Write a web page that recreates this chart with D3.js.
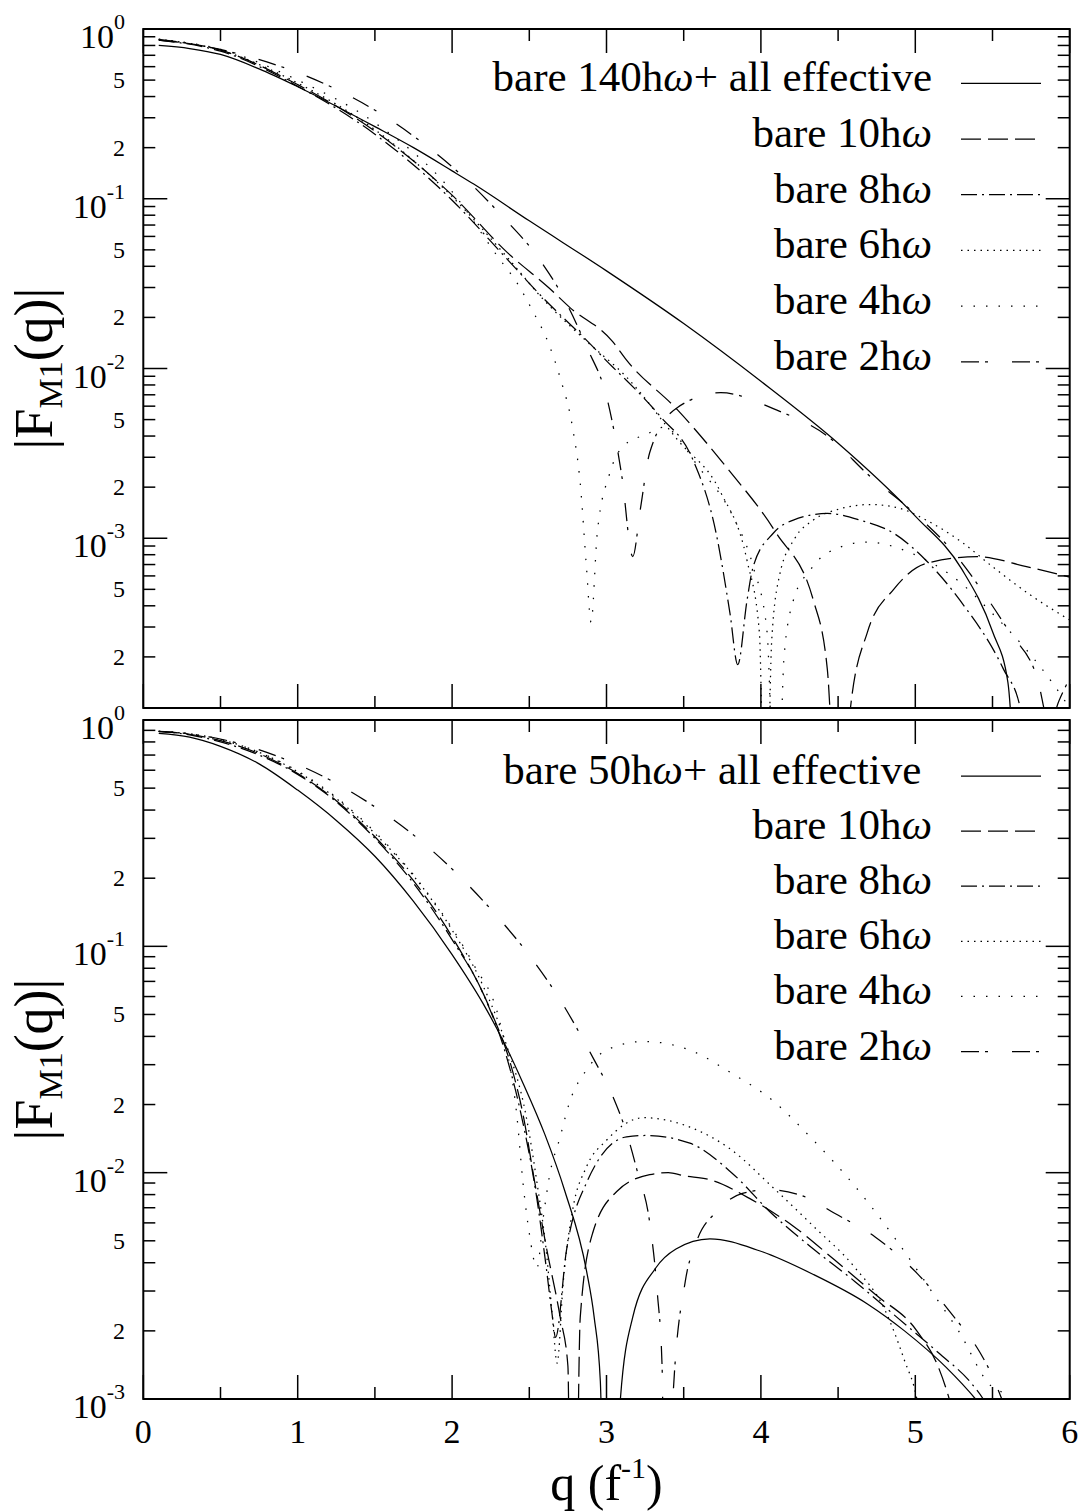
<!DOCTYPE html>
<html>
<head>
<meta charset="utf-8">
<script src="https://cdn.jsdelivr.net/npm/d3@7"></script>
<style>
  body { margin: 0; background: #fff; }
  text { font-family: "Liberation Serif", "Times New Roman", serif; fill: #000; }
  .legend-label { white-space: pre; }
</style>
</head>
<body>
<svg id="chart" width="1081" height="1511"></svg>
<script>
// |F_M1(q)| form factors, q in fm^-1.  Points at 1e-5 mark zero crossings (|F| -> 0).

// ---------- upper panel: bare 140hw + all effective vs. bare Nhw ----------
const top140 = [[0.1,0.80],[0.3,0.767],[0.5,0.708],[0.75,0.582],[1.0,0.457],[1.25,0.351],[1.5,0.266],[1.75,0.20],[2.0,0.146],[2.14,0.122],[2.5,0.0741],[3.0,0.0376],[3.5,0.0184],[4.0,0.00841],[4.5,0.00363],[5.0,0.00135],[5.3,6.6e-4],[5.5,2.82e-4],[5.6,1.41e-4],[5.67,1e-5]];
const top10 = [[0.1,0.86],[0.5,0.75],[1.0,0.47],[1.5,0.25],[2.0,0.105],[2.36,0.048],[2.63,0.0297],[2.76,0.023],[3.04,0.0144],[3.13,0.0112],[3.46,0.0057],[3.78,0.0026],[4.1,0.00107],[4.34,4.3e-4],[4.43,1.7e-4],[4.51,1e-5],[4.58,1e-4],[4.69,2.8e-4],[4.86,5e-4],[5.07,7.1e-4],[5.4,7.8e-4],[5.72,6.8e-4],[6.0,5.9e-4]];
const top8 = [[0.1,0.86],[0.5,0.74],[1.0,0.46],[1.5,0.24],[2.0,0.098],[2.35,0.0447],[2.59,0.026],[2.87,0.0147],[3.04,0.0102],[3.13,0.0085],[3.35,0.0052],[3.56,0.0029],[3.71,0.00107],[3.8,3.6e-4],[3.85,1.8e-4],[3.91,4.3e-4],[3.95,6.8e-4],[4.08,0.00107],[4.21,0.00128],[4.43,0.0014],[4.64,0.00128],[4.86,0.00107],[5.07,7.4e-4],[5.29,4.3e-4],[5.57,1.7e-4],[5.68,1e-4],[5.76,1e-5]];
const top6 = [[0.1,0.87],[0.5,0.75],[1.0,0.48],[1.5,0.255],[2.0,0.103],[2.35,0.046],[2.6,0.025],[2.87,0.0145],[3.13,0.0089],[3.46,0.0038],[3.74,0.00186],[3.91,7.4e-4],[3.99,2.8e-4],[4.03,1e-5],[4.07,2.5e-4],[4.12,6e-4],[4.22,1.0e-3],[4.34,1.28e-3],[4.5,1.48e-3],[4.71,1.58e-3],[4.9,1.5e-3],[5.07,1.28e-3],[5.3,9.5e-4],[5.5,6.8e-4],[5.75,4.6e-4],[6.0,3.3e-4]];
const top4 = [[0.1,0.87],[0.5,0.76],[1.0,0.5],[1.5,0.28],[2.0,0.11],[2.3,0.045],[2.42,0.032],[2.52,0.022],[2.62,0.0144],[2.7,0.0088],[2.78,0.0045],[2.83,0.0021],[2.87,6.8e-4],[2.9,3.2e-4],[2.94,1.07e-3],[3.02,0.0024],[3.11,0.0035],[3.26,0.0041],[3.37,0.0045],[3.6,0.0026],[3.82,0.00134],[3.95,6.8e-4],[4.04,2.8e-4],[4.1,1e-5],[4.15,2e-4],[4.21,4.3e-4],[4.32,6.5e-4],[4.43,8.2e-4],[4.69,9.5e-4],[4.97,8.2e-4],[5.29,5.5e-4],[5.5,3.6e-4],[5.72,2.2e-4],[5.89,1.4e-4],[6.0,1.0e-4]];
const top2 = [[0.1,0.87],[0.4,0.79],[0.8,0.64],[1.19,0.468],[1.53,0.32],[1.81,0.213],[2.06,0.138],[2.33,0.078],[2.56,0.0447],[2.73,0.0253],[2.87,0.0135],[3.01,0.0063],[3.1,0.0023],[3.17,7.8e-4],[3.22,0.0015],[3.28,0.0032],[3.46,0.0059],[3.74,0.0072],[4.1,0.0057],[4.43,0.0040],[4.71,0.0023],[4.97,0.00147],[5.25,8.2e-4],[5.44,4.8e-4],[5.61,2.8e-4],[5.79,1.5e-4],[5.87,8e-5],[5.93,1.1e-4],[6.0,1.5e-4]];

// ---------- lower panel: bare 50hw + all effective vs. bare Nhw ----------
const bot50 = [[0.1,0.873],[0.3,0.84],[0.5,0.765],[0.75,0.64],[1.0,0.49],[1.25,0.36],[1.5,0.25],[1.75,0.158],[2.0,0.092],[2.2,0.056],[2.35,0.036],[2.46,0.0248],[2.6,0.0148],[2.73,0.0083],[2.87,0.0037],[2.92,0.0023],[2.96,0.0012],[3.02,1e-5],[3.09,1.0e-3],[3.17,0.0023],[3.32,0.0038],[3.45,0.0046],[3.67,0.0051],[3.99,0.00452],[4.34,0.00355],[4.69,0.00263],[4.93,0.002],[5.2,0.00138],[5.39,1.0e-3],[5.5,8e-4]];
const bot10 = [[0.1,0.89],[0.3,0.865],[0.5,0.81],[0.75,0.71],[1.0,0.58],[1.25,0.44],[1.5,0.305],[1.75,0.195],[2.0,0.11],[2.25,0.052],[2.38,0.03],[2.46,0.018],[2.53,0.0095],[2.61,0.0047],[2.7,0.0023],[2.75,0.0014],[2.78,1e-5],[2.83,0.0023],[2.91,0.0054],[3.07,0.0083],[3.28,0.0098],[3.4,0.01],[3.5,0.0097],[3.67,0.0093],[3.94,0.0076],[4.21,0.0058],[4.48,0.0041],[4.74,0.0029],[5.01,0.002],[5.15,0.00138],[5.22,1e-3],[5.3,6e-4]];
const bot8 = [[0.1,0.89],[0.3,0.86],[0.5,0.80],[0.75,0.70],[1.0,0.575],[1.25,0.435],[1.5,0.30],[1.75,0.19],[2.0,0.107],[2.2,0.062],[2.35,0.033],[2.44,0.019],[2.55,0.0076],[2.61,0.0038],[2.65,0.0023],[2.67,0.00187],[2.74,0.0045],[2.87,0.009],[3.13,0.0144],[3.26,0.0146],[3.54,0.0135],[3.81,0.01],[4.07,0.0066],[4.34,0.0046],[4.61,0.0033],[4.88,0.0023],[5.15,0.0016],[5.36,0.00118],[5.44,1e-3],[5.55,7e-4]];
const bot6 = [[0.1,0.89],[0.3,0.87],[0.5,0.82],[0.75,0.72],[1.0,0.59],[1.25,0.45],[1.5,0.315],[1.75,0.205],[2.0,0.118],[2.2,0.067],[2.35,0.037],[2.48,0.0177],[2.55,0.009],[2.61,0.0045],[2.65,0.0023],[2.68,0.00144],[2.72,0.0033],[2.78,0.0068],[2.87,0.0106],[3.0,0.0139],[3.24,0.0175],[3.54,0.0159],[3.81,0.0126],[4.07,0.0087],[4.34,0.0058],[4.61,0.0038],[4.8,0.0025],[4.93,0.00148],[5.01,1e-3],[5.06,6e-4]];
const bot4 = [[0.1,0.89],[0.3,0.87],[0.5,0.82],[0.75,0.72],[1.0,0.595],[1.25,0.455],[1.5,0.32],[1.75,0.207],[2.0,0.12],[2.14,0.083],[2.31,0.046],[2.42,0.0177],[2.46,0.0089],[2.5,0.0054],[2.55,0.0038],[2.59,0.0063],[2.63,0.0096],[2.7,0.0144],[2.76,0.0204],[2.87,0.0284],[3.0,0.0348],[3.24,0.038],[3.54,0.0348],[3.81,0.0275],[4.07,0.021],[4.34,0.0139],[4.61,0.0087],[4.88,0.005],[5.15,0.0027],[5.28,0.002],[5.47,0.00118],[5.6,1e-3],[5.7,7e-4]];
const bot2 = [[0.1,0.89],[0.4,0.85],[0.86,0.695],[1.21,0.543],[1.505,0.411],[1.79,0.295],[2.045,0.205],[2.29,0.136],[2.51,0.0894],[2.71,0.0565],[2.876,0.0358],[2.92,0.0315],[3.05,0.021],[3.13,0.015],[3.2,0.0101],[3.28,0.006],[3.33,0.0029],[3.36,0.0014],[3.39,1e-5],[3.43,1e-3],[3.51,0.0033],[3.58,0.0049],[3.72,0.0068],[3.88,0.0081],[4.05,0.0084],[4.29,0.0078],[4.48,0.0066],[4.74,0.0052],[5.01,0.0036],[5.23,0.0024],[5.42,0.0016],[5.5,0.00126],[5.56,1e-3],[5.65,7e-4]];

// ---------- labels ----------
const topLegendLabels = ["bare 140hω+ all effective", "bare 10hω", "bare 8hω", "bare 6hω", "bare 4hω", "bare 2hω"];
const bottomLegendLabels = ["bare 50hω+ all effective ", "bare 10hω", "bare 8hω", "bare 6hω", "bare 4hω", "bare 2hω"];
const xTickValues = [0, 1, 2, 3, 4, 5, 6];
const xTickLabels = ["0", "1", "2", "3", "4", "5", "6"];
const xMinorTicks = [0.5, 1.5, 2.5, 3.5, 4.5, 5.5];
const topDecades = [0, -1, -2, -3];
const bottomDecades = [0, -1, -2, -3];
const minorLabelMantissas = [5, 2];
const yTitleParts = ["|F", "M1", "(q)|"];
const xTitleParts = ["q (f", "-1", ")"];

// ---------- styles (one per legend row) ----------
const dashStyles = [null, "20,7", "16,5,2,5", "1.5,5", "1.5,11", "18,6,3,24"];

const svg = d3.select("#chart");
const x = d3.scaleLinear().domain([0, 6]).range([143.3, 1069.7]);

const panels = [
  { id: "upper", yDomain: [1e-4, 1], yRange: [708, 29], series: [top140, top10, top8, top6, top4, top2],
    legend: topLegendLabels, legendY: 83.3, legendStep: 55.7, decades: topDecades, minExp: -4 },
  { id: "lower", yDomain: [1e-3, 1], yRange: [1399, 720], series: [bot50, bot10, bot8, bot6, bot4, bot2],
    legend: bottomLegendLabels, legendY: 776, legendStep: 55.1, decades: bottomDecades, minExp: -3 }
];

const MAJOR = 24, MINOR = 12;

panels.forEach(p => {
  const y = d3.scaleLog().domain(p.yDomain).range(p.yRange);
  const [x0, x1] = x.range();
  const yTop = p.yRange[1], yBot = p.yRange[0];
  const g = svg.append("g");

  g.append("clipPath").attr("id", "clip-" + p.id)
    .append("rect").attr("x", x0).attr("y", yTop).attr("width", x1 - x0).attr("height", yBot - yTop);

  // curves
  const line = d3.line().x(d => x(d[0])).y(d => y(d[1])).curve(d3.curveMonotoneX);
  const curves = g.append("g").attr("clip-path", `url(#clip-${p.id})`);
  p.series.forEach((s, i) => {
    curves.append("path").datum(s)
      .attr("d", line)
      .attr("fill", "none")
      .attr("stroke", "#000")
      .attr("stroke-width", 1.25)
      .attr("stroke-dasharray", dashStyles[i]);
  });

  // ticks (inside, mirrored on all four sides)
  const ticks = g.append("g").attr("stroke", "#000").attr("stroke-width", 1.5);
  const xt = xTickValues.map(v => ({ v, len: MAJOR })).concat(xMinorTicks.map(v => ({ v, len: MINOR })));
  xt.forEach(t => {
    ticks.append("line").attr("x1", x(t.v)).attr("x2", x(t.v)).attr("y1", yBot).attr("y2", yBot - t.len);
    ticks.append("line").attr("x1", x(t.v)).attr("x2", x(t.v)).attr("y1", yTop).attr("y2", yTop + t.len);
  });
  const yt = [];
  for (let e = p.minExp; e <= 0; e++) {
    yt.push({ v: Math.pow(10, e), len: MAJOR });
    if (e < 0) for (let k = 2; k <= 9; k++) yt.push({ v: k * Math.pow(10, e), len: MINOR });
  }
  yt.forEach(t => {
    const yy = y(t.v);
    if (yy < yTop - 0.5 || yy > yBot + 0.5) return;
    ticks.append("line").attr("x1", x0).attr("x2", x0 + t.len).attr("y1", yy).attr("y2", yy);
    ticks.append("line").attr("x1", x1).attr("x2", x1 - t.len).attr("y1", yy).attr("y2", yy);
  });

  // frame
  g.append("rect").attr("x", x0).attr("y", yTop).attr("width", x1 - x0).attr("height", yBot - yTop)
    .attr("fill", "none").attr("stroke", "#000").attr("stroke-width", 2);

  // decade labels 10^n
  p.decades.forEach(e => {
    const yy = y(Math.pow(10, e));
    const t = g.append("text").attr("x", 125).attr("y", yy + 19).attr("text-anchor", "end");
    t.append("tspan").attr("font-size", 34).text("10");
    t.append("tspan").attr("font-size", 22).attr("dy", -19).text(e === 0 ? "0" : String(e));
  });
  // mantissa labels 5, 2
  p.decades.forEach(e => {
    minorLabelMantissas.forEach(m => {
      const v = m * Math.pow(10, e - 1);
      if (v < p.yDomain[0] * 1.5) return;
      g.append("text").attr("x", 125).attr("y", y(v) + 8).attr("text-anchor", "end")
        .attr("font-size", 24).text(String(m));
    });
  });

  // y title
  const yc = (yTop + yBot) / 2;
  const yTitle = g.append("text").attr("transform", `translate(52,${yc}) rotate(-90)`)
    .attr("text-anchor", "middle").attr("font-size", 54);
  yTitle.append("tspan").text(yTitleParts[0]);
  yTitle.append("tspan").attr("font-size", 34).attr("dy", 10).text(yTitleParts[1]);
  yTitle.append("tspan").attr("dy", -10).text(yTitleParts[2]);

  // legend
  p.legend.forEach((lab, i) => {
    const ly = p.legendY + i * p.legendStep;
    const t = g.append("text").attr("class", "legend-label").attr("x", 932).attr("y", ly + 8)
      .attr("text-anchor", "end").attr("font-size", 43);
    const parts = lab.split("ω");
    parts.forEach((part, j) => {
      if (part) t.append("tspan").text(part);
      if (j < parts.length - 1) t.append("tspan").attr("font-style", "italic").text("ω");
    });
    g.append("line").attr("x1", 961).attr("x2", 1041).attr("y1", ly).attr("y2", ly)
      .attr("stroke", "#000").attr("stroke-width", 1.25).attr("stroke-dasharray", dashStyles[i]);
  });

  // x labels only under the lower panel
  if (p.id === "lower") {
    xTickValues.forEach((v, i) => {
      g.append("text").attr("x", x(v)).attr("y", yBot + 44).attr("text-anchor", "middle")
        .attr("font-size", 34).text(xTickLabels[i]);
    });
    const xt2 = g.append("text").attr("x", (x0 + x1) / 2).attr("y", 1500)
      .attr("text-anchor", "middle").attr("font-size", 50);
    xt2.append("tspan").text(xTitleParts[0]);
    xt2.append("tspan").attr("font-size", 30).attr("dy", -22).text(xTitleParts[1]);
    xt2.append("tspan").attr("dy", 22).text(xTitleParts[2]);
  }
});
</script>
</body>
</html>
